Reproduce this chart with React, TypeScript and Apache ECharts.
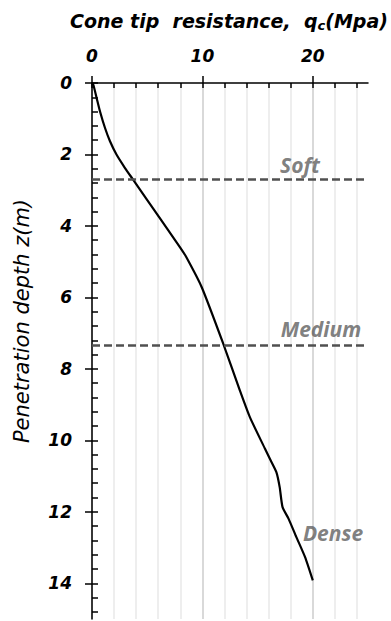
import React, { useEffect, useRef } from "react";
import * as echarts from "echarts";

// Cone tip resistance qc (MPa) vs penetration depth z (m)
const qcValues = [0, 0.12, 0.42, 0.72, 1.18, 1.63, 2.23, 2.99, 3.69, 4.88, 6.27, 7.96, 8.5, 9.93, 11.88, 13.39, 14.3, 15.66, 16.1, 16.7, 17.0, 17.26, 17.8, 18.5, 19.3, 20.0];
const depthValues = [0, 0.05, 0.42, 0.79, 1.26, 1.63, 2.01, 2.38, 2.69, 3.22, 3.84, 4.59, 4.85, 5.71, 7.29, 8.6, 9.35, 10.23, 10.51, 10.89, 11.31, 11.87, 12.19, 12.7, 13.27, 13.92];

// Layer boundaries (depth, m)
const boundaryDepths = [2.7, 7.33];

// Zone annotations
const zoneNames = ["Soft", "Medium", "Dense"];
const zoneQc = [18.84, 20.74, 21.83];
const zoneDepth = [2.3, 6.89, 12.6];

// Axis ticks
const xLabelValues = [0, 10, 20];
const xTickValues = [0, 2, 4, 6, 8, 10, 12, 14, 16, 18, 20, 22, 24];
const yLabelValues = [0, 2, 4, 6, 8, 10, 12, 14];
const yMinorTickValues: number[] = [];
for (let i = 0; i <= 37; i++) yMinorTickValues.push(Math.round(i * 0.4 * 10) / 10);

const tickFont = {
  fontFamily: "DejaVu Sans",
  fontWeight: "bold" as const,
  fontStyle: "italic" as const,
  fontSize: 17,
  color: "#000",
};

export default function App() {
  const ref = useRef<HTMLDivElement>(null);
  useEffect(() => {
    if (!ref.current) return;
    const chart = echarts.init(ref.current, null, { renderer: "svg" });
    const curve = qcValues.map((q, i) => [q, depthValues[i]]);
    const zones = zoneNames.map((n, i) => ({ name: n, value: [zoneQc[i], zoneDepth[i]] }));
    chart.setOption({
      animation: false,
      backgroundColor: "#fff",
      grid: { left: 92, top: 83, right: 23, bottom: 2, containLabel: false, outerBoundsMode: "none" },
      xAxis: [
        {
          type: "value",
          position: "top",
          min: 0,
          max: 25,
          interval: 2,
          axisLine: { show: true, lineStyle: { color: "#000", width: 1.5 } },
          axisTick: { show: true, inside: true, length: 5, customValues: xTickValues, lineStyle: { color: "#000", width: 1.5 } },
          axisLabel: { ...tickFont, margin: 19, customValues: xLabelValues },
          splitLine: {
            show: true,
            lineStyle: { color: ["#cdcdcd", "#e8e8e8", "#e8e8e8", "#e8e8e8", "#e8e8e8"], width: 1.5 },
          },
        },
        {
          type: "value",
          position: "top",
          min: 0,
          max: 25,
          interval: 10,
          axisLine: { show: false },
          axisTick: { show: true, inside: false, length: 7, customValues: xLabelValues, lineStyle: { color: "#000", width: 1.5 } },
          axisLabel: { show: false },
          splitLine: { show: false },
        },
      ],
      yAxis: [
        {
          type: "value",
          inverse: true,
          min: 0,
          max: 15,
          interval: 2,
          axisLine: { show: true, lineStyle: { color: "#000", width: 1.5 } },
          axisTick: { show: true, inside: true, length: 6, customValues: yMinorTickValues, lineStyle: { color: "#000", width: 1.5 } },
          axisLabel: { ...tickFont, margin: 20, customValues: yLabelValues },
          splitLine: { show: false },
        },
        {
          type: "value",
          inverse: true,
          position: "left",
          min: 0,
          max: 15,
          interval: 2,
          axisLine: { show: false },
          axisTick: { show: true, inside: false, length: 7, customValues: yLabelValues, lineStyle: { color: "#000", width: 1.5 } },
          axisLabel: { show: false },
          splitLine: { show: false },
        },
      ],
      graphic: [
        {
          type: "text",
          x: 229,
          y: 21,
          style: {
            text: "{a|Cone tip  resistance,  q}{b|c}{a|(Mpa)}",
            align: "center",
            verticalAlign: "middle",
            rich: {
              a: { fontFamily: "DejaVu Sans", fontWeight: "bold", fontStyle: "italic", fontSize: 19, fill: "#000" },
              b: { fontFamily: "DejaVu Sans", fontWeight: "bold", fontStyle: "italic", fontSize: 13, fill: "#000", padding: [9, 0, 0, 0] },
            },
          },
        },
        {
          type: "text",
          x: 22,
          y: 321,
          rotation: Math.PI / 2,
          style: {
            text: "Penetration depth z(m)",
            align: "center",
            verticalAlign: "middle",
            fontFamily: "DejaVu Sans",
            fontStyle: "italic",
            fontSize: 21,
            fill: "#000",
          },
        },
      ],
      series: [
        {
          type: "line",
          xAxisIndex: 0,
          yAxisIndex: 0,
          data: curve,
          showSymbol: false,
          smooth: 0.2,
          lineStyle: { color: "#000", width: 2.2 },
          markLine: {
            silent: true,
            symbol: ["none", "none"],
            label: { show: false },
            lineStyle: { color: "#505050", width: 2.6, type: [8, 4] },
            emphasis: { disabled: true },
            data: boundaryDepths.map((d) => ({ yAxis: d })),
          },
          z: 3,
        },
        {
          type: "scatter",
          xAxisIndex: 0,
          yAxisIndex: 0,
          data: zones,
          symbolSize: 0,
          silent: true,
          label: {
            show: true,
            position: "inside",
            formatter: (p: any) => p.name,
            fontFamily: "Open Sans",
            fontStyle: "italic",
            fontWeight: "bold",
            fontSize: 21,
            color: "#5e5e5e",
          },
          z: 4,
        },
      ],
    });
    return () => chart.dispose();
  }, []);
  return <div ref={ref} style={{ position: "fixed", left: 0, top: 0, width: 391, height: 621 }} />;
}
